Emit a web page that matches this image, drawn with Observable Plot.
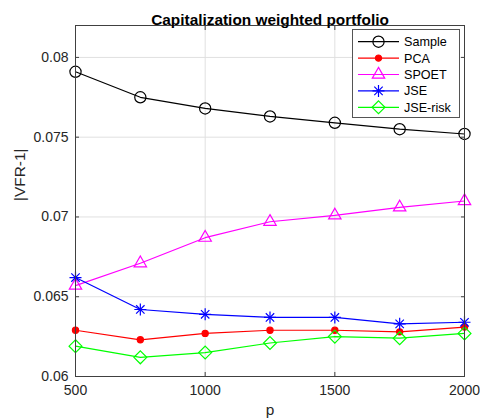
<!DOCTYPE html>
<html>
<head>
<meta charset="utf-8">
<script src="https://cdn.jsdelivr.net/npm/d3@7"></script>
<script src="https://cdn.jsdelivr.net/npm/@observablehq/plot@0.6"></script>
<style>
  body { margin: 0; background: #fff; }
  #chart { width: 480px; height: 420px; }
</style>
</head>
<body>
<div id="chart"></div>
<script>
// Number of assets p
const p = [500, 750, 1000, 1250, 1500, 1750, 2000];

// |VFR-1| for each estimator
const sample  = [0.0791, 0.0775, 0.0768, 0.0763, 0.0759, 0.0755, 0.0752];
const pca     = [0.0629, 0.0623, 0.0627, 0.0629, 0.0629, 0.0628, 0.0631];
const spoet   = [0.0657, 0.0671, 0.0687, 0.0697, 0.0701, 0.0706, 0.0710];
const jse     = [0.0662, 0.0642, 0.0639, 0.0637, 0.0637, 0.0633, 0.0634];
const jseRisk = [0.0619, 0.0612, 0.0615, 0.0621, 0.0625, 0.0624, 0.0627];

const seriesNames = ["Sample", "PCA", "SPOET", "JSE", "JSE-risk"];
const seriesValues = [sample, pca, spoet, jse, jseRisk];

const xTicks = [500, 1000, 1500, 2000];
const yTicks = [0.06, 0.065, 0.07, 0.075, 0.08];

const titleText = "Capitalization weighted portfolio";
const xLabel = "p";
const yLabel = "|VFR-1|";

// Marker styling per series (the JSE asterisk is a plus overlaid with a times)
const styles = {
  "Sample":   {color: "#000000", marks: [{symbol: "circle", r: 5.6, fill: "none"}]},
  "PCA":      {color: "#ff0000", marks: [{symbol: "circle", r: 3.1, fill: "#ff0000"}]},
  "SPOET":    {color: "#ff00ff", marks: [{symbol: "triangle", r: 4.6, fill: "none"}]},
  "JSE":      {color: "#0000ff", marks: [{symbol: "plus", r: 3.95, fill: "none"}, {symbol: "times", r: 3.9, fill: "none"}]},
  "JSE-risk": {color: "#00ff00", marks: [{symbol: "diamond2", r: 5.8, fill: "none"}]}
};

const axisColor = "#404040";
const textColor = "#262626";
const gridColor = "#e0e0e0";
const font = "'Liberation Sans', Arial, Helvetica, sans-serif";

const seriesMarks = seriesNames.flatMap((name, i) => {
  const rows = p.map((x, j) => ({p: x, v: seriesValues[i][j]}));
  const s = styles[name];
  return [
    Plot.line(rows, {x: "p", y: "v", stroke: s.color, strokeWidth: 1.2}),
    ...s.marks.map(m => Plot.dot(rows, {
      x: "p", y: "v", symbol: m.symbol, r: m.r,
      stroke: s.color, fill: m.fill, strokeWidth: 1.2
    }))
  ];
});

const chart = Plot.plot({
  width: 480,
  height: 420,
  marginLeft: 75,
  marginRight: 16,
  marginTop: 25,
  marginBottom: 44,
  style: {fontFamily: font, fontSize: "14px", color: textColor, background: "#fff"},
  x: {domain: [500, 2000], label: null},
  y: {domain: [0.06, 0.082], label: null},
  marks: [
    Plot.gridX(xTicks, {stroke: gridColor, strokeOpacity: 1}),
    Plot.gridY(yTicks, {stroke: gridColor, strokeOpacity: 1}),
    ...seriesMarks,
    Plot.frame({stroke: axisColor, strokeWidth: 1}),
    // tick labels
    Plot.axisX(xTicks, {anchor: "bottom", tickSize: 0, tickPadding: 9, tickFormat: d => String(d), label: null, fill: textColor}),
    Plot.axisY(yTicks, {anchor: "left", tickSize: 0, tickPadding: 7, tickFormat: d3.format("~g"), label: null, fill: textColor}),
    // inward tick marks on all four sides
    Plot.axisX(xTicks, {anchor: "bottom", tickSize: 4, dy: -4, text: null, label: null, stroke: axisColor}),
    Plot.axisX(xTicks, {anchor: "top", tickSize: 4, dy: 4, text: null, label: null, stroke: axisColor}),
    Plot.axisY(yTicks, {anchor: "left", tickSize: 4, dx: 4, text: null, label: null, stroke: axisColor}),
    Plot.axisY(yTicks, {anchor: "right", tickSize: 4, dx: -4, text: null, label: null, stroke: axisColor}),
    // title and axis labels
    Plot.text([titleText], {frameAnchor: "top", dy: -11, fontSize: 15.4, fontWeight: "bold", fill: "#000"}),
    Plot.text([xLabel], {frameAnchor: "bottom", dy: 38, fontSize: 15.4, fill: textColor}),
    Plot.text([yLabel], {frameAnchor: "left", dx: -55, rotate: -90, fontSize: 15.4, fill: textColor})
  ]
});

// Legend box in the upper-right corner of the axes
const svg = d3.select(chart);
const frameRight = 480 - 16, frameTop = 25;
const box = {w: 107, h: 88};
const bx = frameRight - 5 - box.w, by = frameTop + 4;
const legend = svg.append("g").attr("transform", `translate(${bx},${by})`);
legend.append("rect")
  .attr("width", box.w).attr("height", box.h)
  .attr("fill", "#fff").attr("stroke", "#555").attr("stroke-width", 1)
  .attr("shape-rendering", "crispEdges");
const symbolTypes = {
  circle: d3.symbolCircle, triangle: d3.symbolTriangle, plus: d3.symbolPlus,
  times: d3.symbolTimes, diamond2: d3.symbolDiamond2
};
seriesNames.forEach((name, i) => {
  const s = styles[name];
  const y = 12.7 + i * 16.4;
  const row = legend.append("g").attr("transform", `translate(0,${y})`);
  row.append("line").attr("x1", 6).attr("x2", 47).attr("y1", 0).attr("y2", 0)
    .attr("stroke", s.color).attr("stroke-width", 1.2);
  s.marks.forEach(m => {
    row.append("path")
      .attr("transform", "translate(26.5,0)")
      .attr("d", d3.symbol(symbolTypes[m.symbol], Math.PI * m.r * m.r)())
      .attr("fill", m.fill).attr("stroke", s.color).attr("stroke-width", 1.2);
  });
  row.append("text").attr("x", 52).attr("y", 0).attr("dy", "0.35em")
    .attr("text-anchor", "start")
    .attr("font-size", 12.6).attr("fill", "#000").text(name);
});

document.getElementById("chart").appendChild(chart);
</script>
</body>
</html>
